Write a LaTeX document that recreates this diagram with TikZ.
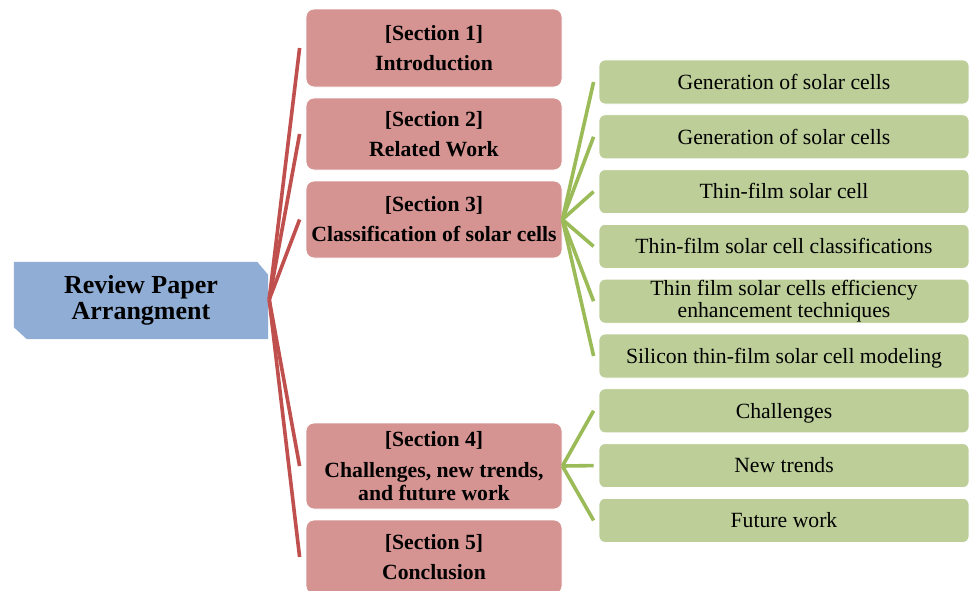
\documentclass[tikz,border=0pt]{standalone}
\usepackage{fontspec}
\setmainfont{Liberation Serif}
\usetikzlibrary{calc,backgrounds}
\definecolor{rootfill}{RGB}{143,173,213}
\definecolor{secfill}{RGB}{213,148,146}
\definecolor{subfill}{RGB}{189,206,153}
\definecolor{redline}{RGB}{192,80,77}
\definecolor{greenline}{RGB}{155,187,89}
\tikzset{
  rootbox/.style={minimum width=254pt,minimum height=77pt,align=center,inner sep=0pt,
    font=\fontsize{26}{26}\selectfont\bfseries},
  secbox/.style={rectangle,rounded corners=8pt,fill=secfill,draw=white,line width=0.8pt,
    minimum width=256pt,align=center,inner sep=0pt,
    font=\fontsize{21.7}{23}\selectfont\bfseries,
    execute at begin node={\rule{0pt}{15.5pt}}},
  subbox/.style={rectangle,rounded corners=6pt,fill=subfill,draw=white,line width=0.8pt,
    minimum width=370pt,minimum height=44pt,align=center,inner sep=0pt,
    font=\fontsize{21.7}{22}\selectfont,
    execute at begin node={\rule{0pt}{19.3pt}},
    execute at end node={\rule[-4.7pt]{0pt}{4.7pt}}},
  redconn/.style={draw=redline,line width=3.6pt,line cap=butt},
  greenconn/.style={draw=greenline,line width=3.6pt,line cap=butt}
}
\begin{document}
\begin{tikzpicture}[x=1pt,y=-1pt]
\useasboundingbox (0,0) rectangle (969,590);
% root
\node[rootbox] (root) at (141,300.5) {Review Paper\\Arrangment};
\begin{scope}[on background layer]
\fill[rootfill] (root.north west) -- ($(root.north east)+(-11,0)$) -- ($(root.north east)+(0,13)$)
  -- (root.south east) -- ($(root.south west)+(13,0)$) -- ($(root.south west)+(0,-12)$) -- cycle;
\end{scope}
% sections
\node[secbox,minimum height=78pt] (s1) at (434,48) {[Section 1]\\[7pt]Introduction};
\node[secbox,minimum height=72pt] (s2) at (434,134) {[Section 2]\\[7pt]Related Work};
\node[secbox,minimum height=77pt] (s3) at (434,219.5) {[Section 3]\\[7pt]Classification of solar cells};
\node[secbox,minimum height=86pt] (s4) at (434,466) {[Section 4]\\[8pt]Challenges, new trends,\\and future work};
\node[secbox,minimum height=74pt] (s5) at (434,557) {[Section 5]\\[7pt]Conclusion};
% sub items
\node[subbox] (g1) at (784,82) {Generation of solar cells};
\node[subbox] (g2) at (784,136.8) {Generation of solar cells};
\node[subbox] (g3) at (784,191.6) {Thin-film solar cell};
\node[subbox] (g4) at (784,246.4) {Thin-film solar cell classifications};
\node[subbox] (g5) at (784,301.2) {Thin film solar cells efficiency\\enhancement techniques};
\node[subbox] (g6) at (784,356) {Silicon thin-film solar cell modeling};
\node[subbox] (g7) at (784,410.8) {Challenges};
\node[subbox] (g8) at (784,465.6) {New trends};
\node[subbox] (g9) at (784,520.4) {Future work};
% connectors
\foreach \s in {s1,s2,s3,s4,s5}
  \draw[redconn] ($(root.east)+(1,-1)$) -- ($(\s.west)+(-6,0)$);
\foreach \g in {g1,g2,g3,g4,g5,g6}
  \draw[greenconn] (s3.east) -- ($(\g.west)+(-5,0)$);
\foreach \g in {g7,g8,g9}
  \draw[greenconn] (s4.east) -- ($(\g.west)+(-5,0)$);
\end{tikzpicture}
\end{document}
